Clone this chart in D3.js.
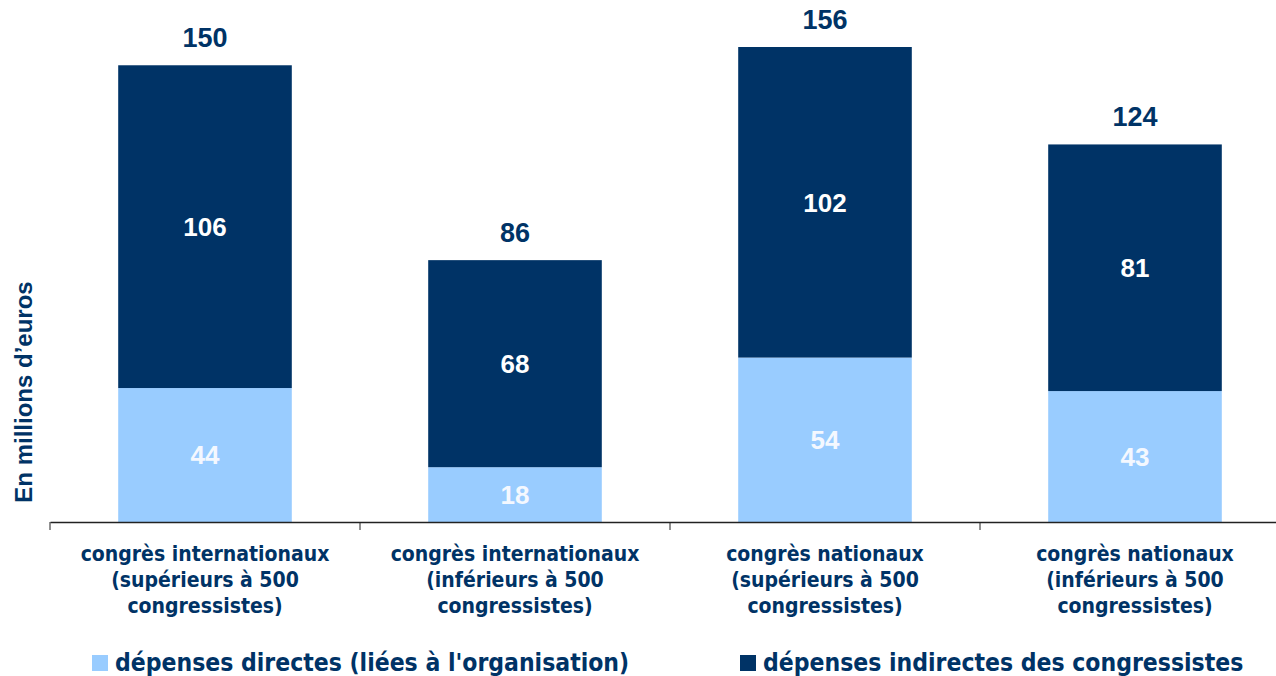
<!DOCTYPE html>
<head>
  <meta charset="utf-8">
  <script src="https://d3js.org/d3.v7.min.js"></script>
  <style>
    body { margin:0; background:#fff; }
    svg { display:block; }
    .lbl { font-family: "DejaVu Sans Condensed", "DejaVu Sans", sans-serif; font-weight: bold; fill: #003366; }
    .num { font-family: "Liberation Sans", Arial, sans-serif; font-weight: bold; }
  </style>
</head>
<body>
  <script>
    var categories = [
      ["congrès internationaux", "(supérieurs à 500", "congressistes)"],
      ["congrès internationaux", "(inférieurs à 500", "congressistes)"],
      ["congrès nationaux", "(supérieurs à 500", "congressistes)"],
      ["congrès nationaux", "(inférieurs à 500", "congressistes)"]
    ];
    var directes = [44, 18, 54, 43];
    var indirectes = [106, 68, 102, 81];
    var totals = [150, 86, 156, 124];
    var seriesNames = ["dépenses directes (liées à l'organisation)", "dépenses indirectes des congressistes"];
    var colors = ["#99ccff", "#003366"];

    var W = 1276, H = 676;
    var svg = d3.select("body").append("svg")
      .attr("width", W).attr("height", H);

    var base = 522;
    var x = d3.scaleBand()
      .domain(d3.range(categories.length))
      .range([50, 1290])
      .paddingInner(0.44).paddingOuter(0.22);
    var band = d3.scaleBand().domain(d3.range(categories.length)).range([50, 1290]);

    var y = d3.scaleLinear().domain([0, 156]).range([base, 47]);

    // stacked segments
    var rows = categories.map(function(c, i) { return { i: i, d: directes[i], n: indirectes[i] }; });
    var stack = d3.stack().keys(["d", "n"])(rows);

    svg.selectAll("g.layer")
      .data(stack)
      .enter().append("g")
      .attr("fill", function(s, k) { return colors[k]; })
      .selectAll("rect")
      .data(function(s) { return s; })
      .enter().append("rect")
      .attr("x", function(d) { return x(d.data.i); })
      .attr("width", x.bandwidth())
      .attr("y", function(d) { return y(d[1]); })
      .attr("height", function(d) { return y(d[0]) - y(d[1]); });

    // segment labels
    stack.forEach(function(s, k) {
      svg.selectAll(null)
        .data(s)
        .enter().append("text")
        .attr("class", "num")
        .attr("x", function(d) { return x(d.data.i) + x.bandwidth() / 2; })
        .attr("y", function(d) { return (y(d[0]) + y(d[1])) / 2; })
        .attr("dy", "0.36em")
        .attr("text-anchor", "middle")
        .style("font-size", "26px")
        .attr("fill", k === 0 ? "#f4f8ff" : "#ffffff")
        .text(function(d) { return d[1] - d[0]; });
    });

    // totals
    svg.selectAll(null)
      .data(totals)
      .enter().append("text")
      .attr("class", "num")
      .attr("x", function(d, i) { return x(i) + x.bandwidth() / 2; })
      .attr("y", function(d) { return y(d) - 18; })
      .attr("text-anchor", "middle")
      .style("font-size", "27px")
      .attr("fill", "#003366")
      .text(function(d) { return d; });

    // x axis
    var axis = svg.append("g")
      .attr("transform", "translate(0," + base + ")")
      .call(d3.axisBottom(band).tickSize(0).tickFormat(""));
    axis.select(".domain").attr("stroke", "#222").attr("stroke-width", 1.3);
    axis.selectAll(null)
      .data(d3.range(categories.length + 1))
      .enter().append("line")
      .attr("x1", function(i) { return 50 + i * band.bandwidth(); })
      .attr("x2", function(i) { return 50 + i * band.bandwidth(); })
      .attr("y1", 0).attr("y2", 8)
      .attr("stroke", "#222");

    categories.forEach(function(lines, i) {
      var t = svg.append("text")
        .attr("class", "lbl")
        .attr("text-anchor", "middle")
        .style("font-size", "21px")
        .attr("x", band(i) + band.bandwidth() / 2)
        .attr("y", 561);
      lines.forEach(function(l, j) {
        t.append("tspan")
          .attr("x", band(i) + band.bandwidth() / 2)
          .attr("dy", j === 0 ? 0 : 26)
          .text(l);
      });
    });

    // y title
    svg.append("text")
      .attr("class", "num")
      .attr("transform", "translate(32,392) rotate(-90)")
      .attr("text-anchor", "middle")
      .style("font-size", "24px")
      .attr("fill", "#003366")
      .text("En millions d\u2019euros");

    // legend
    var legX = [92, 740];
    seriesNames.forEach(function(name, k) {
      var g = svg.append("g").attr("transform", "translate(" + legX[k] + ",655)");
      g.append("rect").attr("width", 16).attr("height", 16).attr("fill", colors[k]);
      g.append("text")
        .attr("class", "lbl")
        .attr("x", 23).attr("y", 16)
        .style("font-size", "24.5px")
        .text(name);
    });
  </script>
</body>
